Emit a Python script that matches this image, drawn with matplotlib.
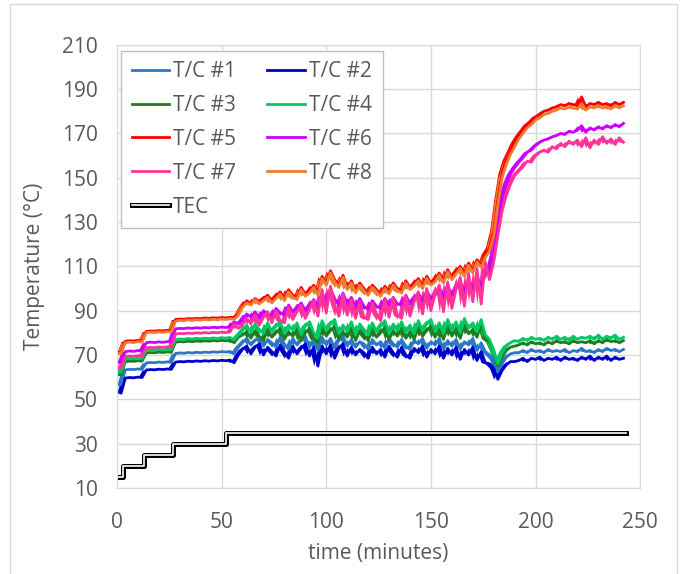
import numpy as np
import matplotlib
matplotlib.use("Agg")
import matplotlib.pyplot as plt
import matplotlib.patheffects as pe
from matplotlib.patches import Rectangle

# thermocouple readings, one sample every 2 minutes (0 .. 242 min)
minutes = np.arange(0, 244, 2)

tc1 = [56.5, 56.6, 63.3, 63.5, 63.4, 63.7, 63.5, 66.4, 66.6, 66.5,
       66.8, 66.6, 66.9, 66.7, 70.7, 70.9, 70.8, 71.1, 70.9, 71.2,
       71.0, 71.3, 71.1, 71.4, 71.2, 71.5, 71.3, 71.6, 70.5, 73.5,
       75.5, 77.5, 74.5, 76.5, 78.0, 74.0, 77.0, 75.5, 73.5, 78.0,
       75.0, 72.5, 77.5, 74.5, 76.5, 78.5, 73.5, 77.0, 72.0, 78.0,
       74.5, 77.5, 73.0, 76.5, 78.5, 74.0, 77.0, 73.5, 76.0, 75.0,
       72.5, 77.0, 74.5, 76.0, 73.0, 77.5, 75.0, 73.5, 77.0, 74.0,
       72.5, 76.5, 75.0, 77.5, 73.0, 76.0, 74.5, 77.5, 72.5, 76.5,
       74.0, 77.0, 72.5, 76.0, 74.5, 77.5, 72.0, 75.5, 71.5,
       70.0, 68.0, 62.5, 66.0, 69.0, 70.5, 71.0,
       71.0, 72.0, 71.0, 72.5, 71.5, 72.0, 71.0, 72.5, 71.5, 72.0,
       71.5, 72.5, 71.0, 72.0, 71.5, 73.0, 71.5, 72.0, 71.0, 72.5,
       71.5, 73.0, 72.0, 72.5, 71.5, 72.5]

tc2 = [53.5, 52.8, 59.6, 59.8, 59.7, 60.0, 59.8, 63.2, 63.4, 63.3,
       63.6, 63.4, 63.7, 63.5, 66.8, 67.0, 66.9, 67.2, 67.0, 67.3,
       67.1, 67.4, 67.2, 67.5, 67.3, 67.6, 67.4, 67.7, 66.5, 70.0,
       72.5, 74.0, 70.5, 73.5, 75.0, 70.0, 73.5, 71.5, 69.5, 74.5,
       71.5, 68.5, 74.0, 70.5, 73.0, 75.0, 69.5, 73.5, 65.0, 74.0,
       70.5, 74.5, 68.5, 73.0, 75.0, 69.5, 73.5, 70.0, 72.5, 71.0,
       68.5, 73.5, 70.5, 72.5, 69.0, 74.0, 71.0, 69.0, 73.5, 70.0,
       68.5, 73.0, 71.0, 74.0, 69.0, 72.5, 70.5, 74.0, 68.5, 73.0,
       70.0, 73.5, 68.0, 72.5, 70.0, 73.5, 67.5, 71.5, 66.5,
       66.0, 64.0, 59.0, 63.0, 65.5, 67.0, 67.0,
       67.5, 68.5, 67.0, 68.5, 68.0, 69.0, 67.5, 68.5, 68.0, 69.0,
       67.5, 69.0, 68.0, 68.5, 67.5, 69.0, 68.0, 69.5, 67.5, 69.0,
       68.0, 69.5, 67.5, 69.0, 68.0, 68.5]

tc3 = [61.0, 61.2, 67.0, 67.2, 67.1, 67.4, 67.2, 70.9, 71.1, 71.0,
       71.3, 71.1, 71.4, 71.2, 75.8, 76.0, 75.9, 76.2, 76.0, 76.3,
       76.1, 76.4, 76.2, 76.5, 76.3, 76.6, 76.4, 76.7, 75.5, 78.0,
       79.0, 80.5, 77.5, 81.0, 78.5, 76.5, 81.5, 78.0, 80.0, 82.0,
       77.0, 80.5, 78.5, 81.5, 76.5, 80.0, 82.0, 77.5, 75.5, 82.5,
       78.5, 81.0, 83.0, 77.0, 80.5, 78.0, 82.0, 76.5, 81.0, 79.0,
       76.5, 81.5, 78.0, 80.0, 82.5, 77.0, 81.0, 78.5, 82.0, 77.5,
       80.5, 77.0, 82.5, 78.5, 81.0, 83.0, 78.0, 81.5, 77.0, 83.0,
       78.5, 82.0, 77.5, 83.5, 79.5, 81.5, 78.0, 84.0, 77.5,
       76.0, 72.0, 65.0, 69.0, 72.0, 73.5, 74.0,
       74.5, 75.5, 74.5, 76.0, 75.0, 75.5, 74.5, 76.0, 75.0, 76.5,
       75.5, 76.0, 75.0, 76.5, 75.5, 76.0, 75.5, 76.5, 75.0, 76.5,
       75.5, 77.0, 76.0, 76.5, 75.5, 76.5]

tc4 = [62.2, 62.4, 68.2, 68.4, 68.3, 68.6, 68.4, 72.1, 72.3, 72.2,
       72.5, 72.3, 72.6, 72.4, 77.0, 77.2, 77.1, 77.4, 77.2, 77.5,
       77.3, 77.6, 77.4, 77.7, 77.5, 77.8, 77.6, 77.9, 76.8, 79.0,
       81.0, 83.5, 80.0, 84.0, 81.5, 79.5, 84.5, 80.5, 83.0, 85.0,
       79.5, 83.5, 81.0, 84.5, 79.0, 83.0, 85.0, 80.0, 77.5, 85.5,
       81.0, 84.0, 86.0, 79.5, 83.5, 80.5, 85.0, 79.0, 84.0, 81.5,
       79.0, 84.5, 80.5, 83.0, 85.5, 79.5, 84.0, 81.0, 85.0, 80.0,
       83.5, 79.5, 85.5, 81.0, 84.0, 86.0, 80.5, 84.5, 79.5, 86.0,
       81.0, 85.0, 80.0, 86.5, 82.0, 84.5, 80.5, 86.0, 79.0,
       77.0, 72.0, 66.0, 71.0, 74.0, 75.5, 76.5,
       76.0, 77.5, 76.5, 78.0, 77.0, 77.5, 76.5, 78.0, 77.0, 78.5,
       77.0, 78.0, 76.5, 78.5, 77.0, 78.0, 77.5, 78.5, 77.0, 79.0,
       77.0, 78.5, 77.5, 79.0, 77.0, 78.0]

tc5 = [71.0, 71.2, 76.2, 76.4, 76.3, 76.6, 76.5, 80.6, 80.8, 80.7,
       81.0, 80.9, 81.1, 81.0, 86.0, 86.2, 86.1, 86.4, 86.3, 86.5,
       86.4, 86.7, 86.5, 86.8, 86.6, 86.9, 86.7, 87.0, 86.8, 88.5,
       92.0, 94.5, 93.0, 95.5, 94.0, 95.5, 97.0, 94.5, 96.5, 98.5,
       95.5, 99.5, 97.0, 96.0, 100.5, 97.5, 99.0, 101.5, 98.0, 105.5,
       102.5, 108.0, 104.0, 101.5, 106.0, 100.5, 103.5, 99.0, 102.5, 100.0,
       98.0, 101.5, 99.5, 97.5, 101.0, 98.5, 102.5, 100.0, 99.0, 103.5,
       100.5, 102.0, 104.5, 101.0, 105.5, 102.5, 104.0, 107.0, 103.5, 108.5,
       105.0, 107.5, 110.0, 106.5, 111.5, 108.0, 113.0, 110.5, 115.5,
       118.5, 126.0, 140.0, 152.0, 158.0, 162.0, 166.0,
       169.0, 171.5, 174.0, 175.5, 177.5, 178.5, 180.0, 180.5, 181.5, 182.0,
       183.0, 182.5, 183.5, 183.0, 182.5, 186.5, 182.0, 183.5, 183.0, 184.0,
       183.0, 183.5, 182.5, 184.0, 183.0, 184.0]

tc6 = [66.5, 66.8, 71.5, 71.8, 71.6, 72.0, 71.8, 75.5, 75.8, 75.6,
       75.9, 75.7, 76.0, 75.9, 81.8, 82.0, 81.9, 82.2, 82.0, 82.3,
       82.1, 82.4, 82.2, 82.5, 82.3, 82.6, 82.4, 82.7, 85.0, 84.0,
       86.0, 88.5, 87.0, 89.5, 86.5, 90.0, 88.5, 87.5, 91.0, 89.0,
       88.0, 92.5, 89.5, 91.0, 93.5, 90.0, 92.0, 95.0, 91.5, 98.0,
       94.0, 100.0, 95.5, 92.5, 98.0, 93.0, 96.0, 91.5, 95.5, 92.0,
       90.5, 94.5, 92.0, 91.0, 95.5, 92.5, 96.0, 93.0, 92.5, 97.0,
       93.0, 95.5, 98.0, 94.0, 99.0, 95.5, 97.0, 100.5, 96.0, 101.5,
       97.0, 100.0, 103.0, 98.5, 104.0, 100.0, 105.5, 101.0, 107.0,
       108.0, 116.0, 128.0, 141.0, 147.0, 151.5, 154.5,
       157.0, 159.0, 161.5, 162.5, 164.5, 166.0, 167.0, 167.5, 168.5, 169.0,
       170.0, 169.5, 171.0, 170.5, 171.5, 173.5, 170.5, 172.5, 171.5, 173.0,
       172.0, 173.5, 172.5, 174.0, 173.0, 174.5]

tc7 = [64.0, 64.2, 69.3, 69.5, 69.4, 69.7, 69.5, 73.2, 73.4, 73.3,
       73.6, 73.4, 73.7, 73.5, 79.5, 79.7, 79.6, 79.9, 79.7, 80.0,
       79.8, 80.1, 79.9, 80.2, 80.0, 80.3, 80.1, 80.4, 84.0, 82.0,
       83.5, 86.5, 84.0, 88.0, 83.5, 87.0, 89.5, 84.5, 90.0, 85.5,
       84.5, 91.5, 86.0, 89.5, 92.5, 86.5, 90.5, 94.5, 87.5, 99.5,
       89.0, 101.0, 93.0, 87.5, 97.5, 88.0, 95.0, 86.5, 94.0, 87.0,
       86.0, 93.5, 88.5, 85.5, 95.0, 87.0, 96.0, 88.0, 86.5, 97.0,
       87.5, 94.0, 98.5, 88.5, 100.0, 90.0, 97.5, 101.5, 89.5, 103.0,
       91.0, 99.5, 105.0, 92.0, 107.0, 94.0, 109.0, 93.0, 112.0,
       104.0, 112.0, 124.0, 135.0, 142.0, 147.0, 151.0,
       153.0, 155.0, 157.5, 157.0, 160.0, 161.5, 162.5, 161.5, 164.0, 163.0,
       165.5, 164.0, 166.5, 165.0, 167.0, 164.0, 168.0, 163.5, 167.0, 165.0,
       168.5, 165.5, 167.5, 165.0, 168.0, 166.0]

tc8 = [70.5, 70.8, 75.5, 75.8, 75.6, 76.0, 75.8, 80.0, 80.3, 80.1,
       80.4, 80.2, 80.5, 80.4, 85.3, 85.6, 85.5, 85.8, 85.6, 85.9,
       85.7, 86.0, 85.8, 86.1, 85.9, 86.2, 86.0, 86.3, 86.1, 88.0,
       91.5, 93.5, 92.5, 95.0, 93.0, 94.5, 96.0, 93.5, 95.5, 97.5,
       94.5, 98.5, 96.0, 95.0, 99.5, 96.5, 98.0, 100.5, 97.0, 104.5,
       101.5, 107.0, 103.0, 100.5, 105.0, 99.5, 102.5, 98.0, 101.5, 99.0,
       97.0, 100.5, 98.5, 96.5, 100.0, 97.5, 101.5, 99.0, 98.0, 102.5,
       99.5, 101.0, 103.5, 100.0, 104.5, 101.5, 103.0, 106.0, 102.5, 107.5,
       104.0, 106.5, 109.0, 105.5, 110.5, 107.0, 112.0, 109.5, 114.0,
       117.0, 124.0, 138.0, 150.0, 156.0, 160.5, 164.0,
       167.5, 170.0, 172.5, 174.0, 176.0, 177.0, 178.5, 179.0, 180.0, 180.5,
       181.5, 181.0, 182.0, 181.5, 181.0, 183.5, 180.5, 182.0, 181.5, 182.5,
       181.5, 182.0, 181.0, 182.5, 181.5, 182.5]

# TEC set point steps
tec_time = [0, 3, 13, 27, 52, 243]
tec_temp = [15, 20, 25, 30, 35, 35]

labels = ["T/C #1", "T/C #2", "T/C #3", "T/C #4",
          "T/C #5", "T/C #6", "T/C #7", "T/C #8"]
colors = ["#2a78c6", "#0000cc", "#1e7d1e", "#00c864",
          "#ff0000", "#cc00ff", "#ff3399", "#ed7d31"]
series = [tc1, tc2, tc3, tc4, tc5, tc6, tc7, tc8]

plt.rcParams['font.family'] = ['Open Sans', 'DejaVu Sans']
grey = '#595959'

fig = plt.figure(figsize=(6.84, 5.74), dpi=100)
ax = fig.add_axes([0.171, 0.150, 0.765, 0.772])

handles = []
for y, c, lab in zip(series, colors, labels):
    y = np.asarray(y)
    # shade between each reading and the next so the scatter reads as a band
    nxt = np.append(y[1:], y[-1])
    ax.fill_between(minutes, y, nxt, color=c, lw=0)
    h, = ax.plot(minutes, y, color=c, lw=2.0, label=lab)
    handles.append(h)

tec, = ax.plot(tec_time, tec_temp, drawstyle='steps-post', color='white', lw=1.2,
               label='TEC',
               path_effects=[pe.Stroke(linewidth=3.6, foreground='black'), pe.Normal()])

ax.set_xlim(0, 250)
ax.set_ylim(10, 210)
ax.set_xticks(range(0, 251, 50))
ax.set_yticks(range(10, 211, 20))
ax.grid(color='#d9d9d9', lw=1.0)
ax.set_axisbelow(True)
for s in ax.spines.values():
    s.set_color('#d9d9d9')
ax.tick_params(length=0, labelsize=15, colors=grey)
ax.tick_params(axis='x', pad=17)
ax.tick_params(axis='y', pad=14)

fig.text(35 / 684, 1 - 266 / 574, "Temperature (°C)", rotation=90,
         ha='center', va='center', fontsize=15, color=grey)
fig.text(378 / 684, 1 - 553 / 574, "time (minutes)",
         ha='center', va='center', fontsize=15, color=grey)

leg_handles = [handles[i] for i in [0, 2, 4, 6]] + [tec] + [handles[i] for i in [1, 3, 5, 7]]
leg = ax.legend(handles=leg_handles, ncol=2, loc='upper left',
                bbox_to_anchor=(0.008, 0.987), borderaxespad=0, fontsize=15,
                fancybox=False, framealpha=1, edgecolor='#bfbfbf',
                handlelength=1.8, handletextpad=0.2, columnspacing=1.5,
                labelspacing=0.62, borderpad=0.5)
leg.get_frame().set_linewidth(1.0)
for t in leg.get_texts():
    t.set_color(grey)

# chart area border
fig.patches.append(Rectangle((10 / 684, -0.05), 667 / 684, 1.05 - 4 / 574,
                             transform=fig.transFigure, fill=False,
                             edgecolor='#d9d9d9', lw=1.0))

fig.savefig("out.png", dpi=100)
